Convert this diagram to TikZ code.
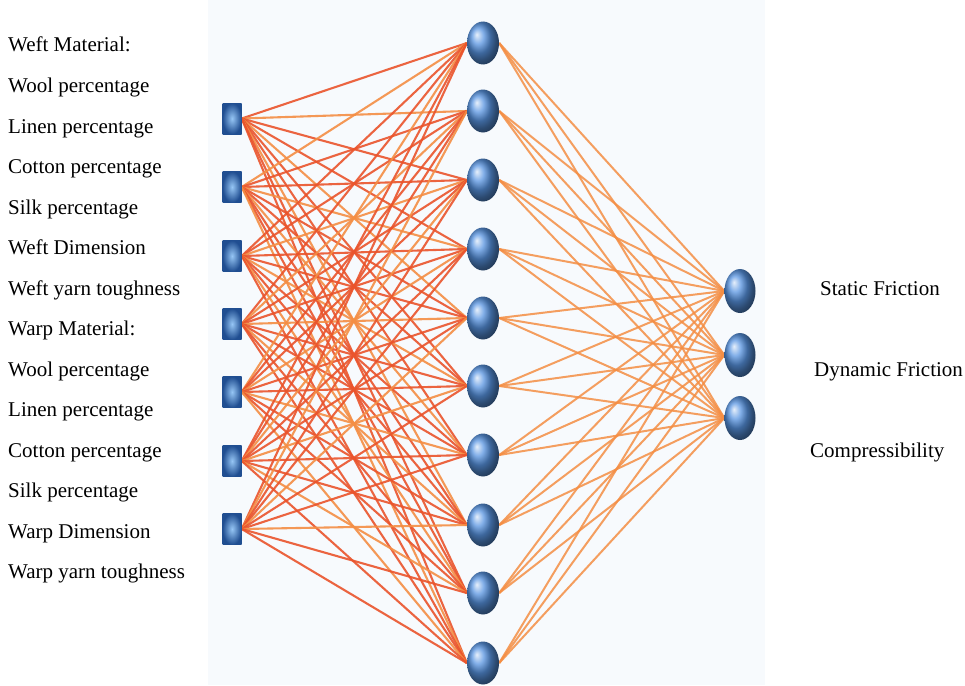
\documentclass[tikz,border=0pt]{standalone}
\usepackage{fontspec}
\setmainfont{Liberation Serif}
\usetikzlibrary{shapes.geometric}
\pgfdeclarelayer{bg}
\pgfsetlayers{bg,main}
\definecolor{panelc}{RGB}{247,250,253}
\definecolor{redline}{RGB}{234,84,44}
\definecolor{orline}{RGB}{244,142,68}
\definecolor{ballblue}{RGB}{88,148,225}
\definecolor{boxlight}{RGB}{150,198,245}
\definecolor{boxdark}{RGB}{32,78,145}
\begin{document}
\begin{tikzpicture}[x=1pt,y=-1pt,
  lbl/.style={anchor=base west,inner sep=0pt,font=\fontsize{21}{26}\selectfont},
  inbox/.style={rectangle,minimum width=19pt,minimum height=31pt,inner sep=0pt,
    inner color=boxlight,outer color=boxdark},
  ballnode/.style={ellipse,minimum width=32pt,minimum height=43pt,inner sep=0pt,ball color=ballblue},
  outnode/.style={ellipse,minimum width=31pt,minimum height=44pt,inner sep=0pt,ball color=ballblue},
  edgeA/.style={draw=redline,line width=2.1pt,opacity=0.9},
  edgeB/.style={draw=orline,line width=2.1pt,opacity=0.9},
  edgeC/.style={draw=orline,line width=2pt,opacity=0.85}
]
\useasboundingbox (0,0) rectangle (965,685);
% input nodes
\foreach \y [count=\k] in {118.5,187,256,324,392,461,529}
  \node[inbox] (i\k) at (232,\y) {};
% hidden nodes
\foreach \y [count=\k] in {43,111,180,249,318,386,455,525,593,663}
  \node[ballnode] (h\k) at (483,\y) {};
% output nodes
\node[outnode] (o1) at (740,291) {};
\node[outnode] (o2) at (740,355) {};
\node[outnode] (o3) at (740,418) {};
\begin{pgfonlayer}{bg}
  \fill[panelc] (208,0) rectangle (765,685);
  \foreach \i in {1,...,7}{
    \foreach \j in {1,...,10}{
      \pgfmathtruncatemacro{\myq}{mod(\i+\j,3)}
      \ifnum\myq=0
        \draw[edgeB] (i\i.east) -- (h\j.west);
      \else
        \draw[edgeA] (i\i.east) -- (h\j.west);
      \fi
    }
  }
  \foreach \j in {1,...,10}{
    \foreach \o in {1,2,3}{
      \draw[edgeC] (h\j.east) -- (o\o.west);
    }
  }
\end{pgfonlayer}
% left labels
\foreach \t [count=\k from 0] in {Weft Material:,Wool percentage,Linen percentage,Cotton percentage,Silk percentage,Weft Dimension,Weft yarn toughness,Warp Material:,Wool percentage,Linen percentage,Cotton percentage,Silk percentage,Warp Dimension,Warp yarn toughness}
  \node[lbl] (l\k) at (8,52+40.5*\k) {\t};
% right labels
\node[lbl] (r1) at (820,295) {Static Friction};
\node[lbl] (r2) at (814,376) {Dynamic Friction};
\node[lbl] (r3) at (810,457) {Compressibility};
\end{tikzpicture}
\end{document}
